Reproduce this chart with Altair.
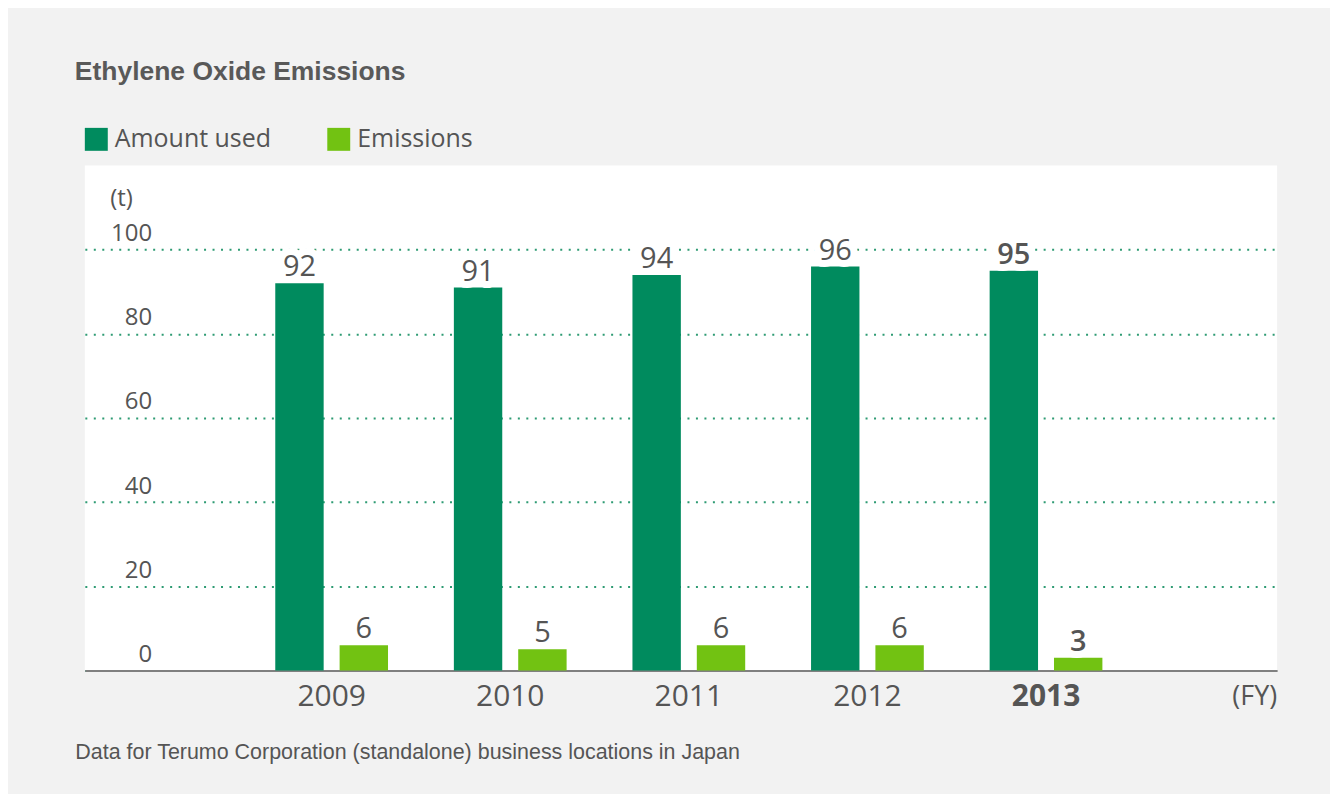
import altair as alt
import pandas as pd

years = ["2009", "2010", "2011", "2012", "2013"]
amount_used = [92, 91, 94, 96, 95]
emissions = [6, 5, 6, 6, 3]
series_names = ["Amount used", "Emissions"]
series_colors = ["#008b5e", "#72c212"]
y_ticks = [0, 20, 40, 60, 80, 100]

rows = []
for i, yr in enumerate(years):
    rows.append({"year": yr, "series": series_names[0], "value": amount_used[i]})
    rows.append({"year": yr, "series": series_names[1], "value": emissions[i]})
df = pd.DataFrame(rows)

TXT = "#555555"
NUM_FONT = "Open Sans"

x_enc = alt.X(
    "year:N",
    sort=years,
    scale=alt.Scale(paddingInner=0.324, paddingOuter=1.0, align=0.522),
    axis=alt.Axis(
        title="Data for Terumo Corporation (standalone) business locations in Japan",
        titleFont="Liberation Sans",
        titleFontSize=21.5,
        titleFontWeight="normal",
        titleColor=TXT,
        titleX=-10,
        titleY=88,
        titleAlign="left",
        titleAnchor="start",
        titleBaseline="alphabetic",
        labelAngle=0,
        labelFont=NUM_FONT,
        labelFontSize=30,
        labelColor=TXT,
        labelBaseline="alphabetic",
        labelPadding=35,
        labelFontWeight={"condition": {"test": "datum.value == '2013'", "value": "bold"}, "value": "normal"},
        ticks=False,
        tickSize=0,
        domain=True,
        domainColor="#808080",
        domainWidth=2,
        grid=False,
    ),
)

xoff_enc = alt.XOffset(
    "series:N",
    sort=series_names,
    scale=alt.Scale(paddingInner=0.248, paddingOuter=0.062),
)

y_enc = alt.Y(
    "value:Q",
    scale=alt.Scale(domain=[0, 120], nice=False),
    axis=alt.Axis(
        values=y_ticks,
        title="(t)",
        titleAngle=0,
        titleX=25,
        titleY=40,
        titleAlign="left",
        titleBaseline="alphabetic",
        titleFont=NUM_FONT,
        titleFontSize=24,
        titleFontWeight="normal",
        titleColor=TXT,
        labelFont=NUM_FONT,
        labelFontSize=24,
        labelColor=TXT,
        labelAlign="right",
        labelBaseline="alphabetic",
        labelPadding=-67,
        labelOffset=-9,
        labelFlush=False,
        labelOverlap=False,
        ticks=False,
        tickSize=0,
        domain=False,
        grid=True,
        gridColor="#2e9b73",
        gridWidth=2,
        gridDash=[2, 6.5],
    ),
)

base = alt.Chart(df)

bars = base.mark_bar().encode(
    x=x_enc,
    xOffset=xoff_enc,
    y=y_enc,
    color=alt.Color(
        "series:N",
        sort=series_names,
        scale=alt.Scale(domain=series_names, range=series_colors),
        legend=alt.Legend(
            title=None,
            orient="none",
            legendX=-1,
            legendY=-39,
            direction="horizontal",
            symbolType="square",
            symbolSize=529,
            symbolStrokeWidth=0,
            symbolOpacity=1,
            labelFont=NUM_FONT,
            labelFontSize=25,
            labelColor=TXT,
            labelOffset=6,
            columnPadding=55,
            gridAlign="all",
        ),
    ),
)

text_enc = dict(
    x=alt.X("year:N", sort=years),
    xOffset=alt.XOffset("series:N", sort=series_names),
    y=alt.Y("value:Q"),
    text=alt.Text("value:Q"),
)

halo = base.mark_text(
    font=NUM_FONT, fontSize=29, baseline="alphabetic", dy=-7,
    stroke="white", strokeWidth=14, strokeJoin="round", fill="white",
).encode(**text_enc)

labels_normal = base.mark_text(
    font=NUM_FONT, fontSize=29, baseline="alphabetic", dy=-7, color=TXT,
).encode(**text_enc).transform_filter("datum.year != '2013'")

labels_bold = base.mark_text(
    font=NUM_FONT, fontSize=29, baseline="alphabetic", dy=-7, color=TXT, fontWeight=600,
).encode(**text_enc).transform_filter("datum.year == '2013'")

fy_df = pd.DataFrame({"label": ["(FY)"]})
fy = alt.Chart(fy_df).mark_text(
    font=NUM_FONT, fontSize=27, color=TXT, align="right", baseline="alphabetic",
).encode(text="label:N", x=alt.value(1195), y=alt.value(541))

chart = (
    alt.layer(bars, halo, labels_normal, labels_bold, fy)
    .properties(
        width=1195,
        height=506,
        background="#f2f2f2",
        padding={"left": 77, "top": 157, "right": 53, "bottom": 123},
        autosize=alt.AutoSizeParams(type="none"),
        title=alt.TitleParams(
            "Ethylene Oxide Emissions",
            anchor="start",
            frame="group",
            dx=-10,
            offset=20,
            baseline="alphabetic",
            font="Liberation Sans",
            fontSize=26.5,
            fontWeight="bold",
            color="#595959",
        ),
    )
    .configure_view(fill="white", stroke=None)
)

chart.save("out.html", embed_options={"renderer": "svg", "actions": False})
